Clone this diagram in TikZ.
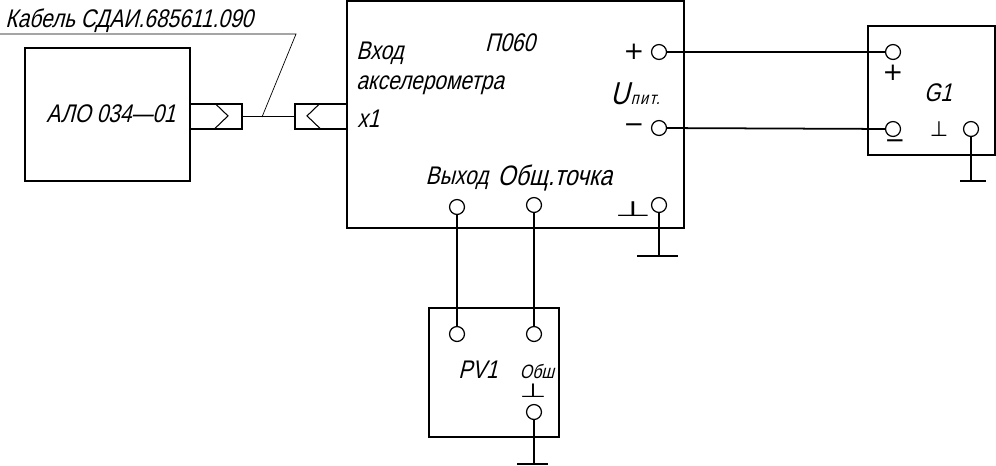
\documentclass[tikz,border=0pt]{standalone}
\usepackage{fontspec}
\usepackage{xcolor}
\newfontfamily\gost{Liberation Sans}[FakeSlant=0.25,FakeStretch=0.82]
\newfontfamily\symb{DejaVu Sans}
\tikzset{
	blockbox/.style={draw,line width=0.7pt,inner sep=0pt},
	pin/.style={draw,circle,line width=0.7pt,minimum size=8.5pt,inner sep=0pt},
	lbl/.style={inner sep=0pt,font=\gost\fontsize{14.5}{16}\selectfont},
	sign/.style={inner sep=0pt,font=\symb\fontsize{14}{15}\selectfont},
	wire/.style={line width=0.6pt},
	heavy/.style={line width=1pt}
}
\begin{document}
\begin{tikzpicture}[x=0.2mm,y=-0.2mm]
	\useasboundingbox (0,0) rectangle (996,465);
	\node[blockbox,minimum width=33mm,minimum height=26.6mm] (alo) at (107.5,114.5) {};
	\node[blockbox,minimum width=10.4mm,minimum height=5mm] (plug) at (216,116.5) {};
	\node[blockbox,minimum width=10.4mm,minimum height=5mm] (socket) at (321,116.5) {};
	\node[blockbox,minimum width=67.4mm,minimum height=45.4mm] (pos) at (515.5,114.5) {};
	\node[blockbox,minimum width=25.4mm,minimum height=25.8mm] (gone) at (931.5,90.5) {};
	\node[blockbox,minimum width=26mm,minimum height=25.8mm] (pvone) at (494,372.5) {};

	\node[lbl] (alotext) at (111,114) {АЛО 034—01};
	\node[lbl,anchor=west] (cabletext) at (5,21) {Кабель СДАИ.685611.090};
	\node[lbl,anchor=west] (intext) at (356,53) {Вход};
	\node[lbl,anchor=west] (acctext) at (356,85) {акселерометра};
	\node[lbl,anchor=west] (xonetext) at (357,119) {x1};
	\node[lbl] (postext) at (510,43) {П060};
	\node[lbl] (outtext) at (457,178) {Выход};
	\node[lbl,font=\gost\fontsize{16}{18}\selectfont] (commontext) at (555,178) {Общ.точка};
	\node[lbl,anchor=west] (utext) at (610,94) {{\fontsize{18}{18}\selectfont U}\hspace{1pt}{\fontsize{10}{10}\selectfont\addfontfeature{LetterSpace=8}пит.}};
	\node[lbl] (gonetext) at (938,93) {G1};
	\node[lbl] (pvonetext) at (478,370) {PV1};
	\node[lbl,font=\gost\fontsize{11}{13}\selectfont] (obshtext) at (537,371) {Обш};

	\node[sign] (posplus) at (634,52) {+};
	\node[sign] (posminus) at (634,128) {−};
	\node[sign] (posgnd) at (633,209) {\fontsize{12}{13}\selectfont\scalebox{2}[1]{⊥}};
	\node[sign] (goneplus) at (893,73) {+};
	\node[sign] (goneminus) at (895,144) {−};
	\node[sign] (gonegnd) at (939,129) {\fontsize{12}{13}\selectfont ⊥};
	\node[sign] (pvgnd) at (533,391) {\fontsize{11}{12}\selectfont\scalebox{1.6}[1]{⊥}};

	\node[pin] (pplus) at (659,52) {};
	\node[pin] (pminus) at (659,128) {};
	\node[pin] (pout) at (457,207) {};
	\node[pin] (pcommon) at (534,205) {};
	\node[pin] (pgnd) at (659,205) {};
	\node[pin] (gplus) at (893,52) {};
	\node[pin] (gminus) at (893,129) {};
	\node[pin] (ggnd) at (971,129) {};
	\node[pin] (vout) at (457,334) {};
	\node[pin] (vcommon) at (534,334) {};
	\node[pin] (vgnd) at (534,412) {};

	\coordinate (leadtop) at (296,34);
	\coordinate (leadend) at (0,34);
	\coordinate (leadfoot) at (262,117);
	\coordinate (pgndend) at (659,256);
	\coordinate (ggndend) at (971,181);
	\coordinate (vgndend) at (534,464);

	\draw[wire] (plug.east) -- (socket.west);
	\draw[line width=0.4pt] (leadfoot) -- (leadtop) -- (leadend);
	\draw[wire] (plug.north) ++(-1,0) -- ++(13,12.5) -- ++(-13,12.5);
	\draw[wire] (socket.north) ++(-1,0) -- ++(-13,12.5) -- ++(13,12.5);

	\draw[wire] (pplus) -- (gplus);
	\draw[heavy] (pminus) -- (gminus);
	\draw[wire] (pout) -- (vout);
	\draw[wire] (pcommon) -- (vcommon);
	\draw[wire] (pgnd) -- (pgndend);
	\draw[wire] (ggnd) -- (ggndend);
	\draw[wire] (vgnd) -- (vgndend);
	\draw[wire] (pgndend) ++(-22,0) -- ++(41,0);
	\draw[heavy] (ggndend) ++(-11,0) -- ++(26,0);
	\draw[wire] (vgndend) ++(-17,0) -- ++(31,0);
\end{tikzpicture}
\end{document}
